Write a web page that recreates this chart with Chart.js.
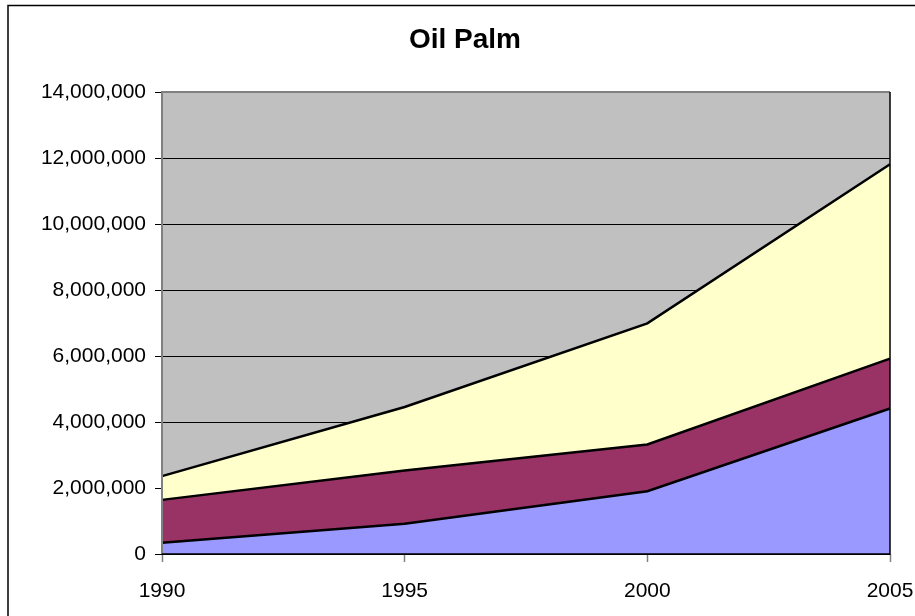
<!DOCTYPE html>
<html>
<head>
<meta charset="utf-8">
<script src="https://cdn.jsdelivr.net/npm/chart.js@4"></script>
<style>
  html, body { margin: 0; padding: 0; background: #fff; }
  #wrap { width: 915px; height: 616px; }
</style>
</head>
<body>
<div id="wrap"><canvas id="grafico" width="915" height="616"></canvas></div>
<script>
// valores
let anos = ['1990', '1995', '2000', '2005'];
let serieAzul = [340000, 920000, 1900000, 4410000];
let serieVinho = [1300000, 1610000, 1420000, 1510000];
let serieAmarela = [720000, 1925000, 3670000, 5890000];

let fonte = "'Liberation Sans', Arial, sans-serif";

// fundo cinza da area do grafico + moldura
const fundo = {
    id: 'fundo',
    beforeDraw(chart) {
        const c = chart.ctx, a = chart.chartArea;
        c.save();
        c.fillStyle = '#C0C0C0';
        c.fillRect(a.left, a.top, a.right - a.left, a.bottom - a.top);
        c.restore();
    },
    afterDraw(chart) {
        const c = chart.ctx, a = chart.chartArea;
        c.save();
        c.strokeStyle = '#808080';
        c.lineWidth = 2;
        c.beginPath();
        c.moveTo(a.left, a.bottom);
        c.lineTo(a.left, a.top);
        c.lineTo(a.right, a.top);
        c.stroke();
        c.strokeStyle = '#000';
        c.lineWidth = 1.5;
        c.beginPath();
        c.moveTo(a.right, a.top);
        c.lineTo(a.right, a.bottom);
        c.lineTo(a.left, a.bottom);
        c.stroke();
        // borda externa
        c.strokeStyle = '#000';
        c.lineWidth = 1.5;
        c.strokeRect(8, 5.5, 1200, 1200);
        c.restore();
    }
};

new Chart(document.getElementById('grafico'), {
    type: 'line',
    data: {
        labels: anos,
        datasets: [{
            label: 'A',
            data: serieAzul,
            backgroundColor: '#9999FF',
            borderColor: '#000',
            borderWidth: 2.5,
            fill: 'origin'
        }, {
            label: 'B',
            data: serieVinho,
            backgroundColor: '#993366',
            borderColor: '#000',
            borderWidth: 2.5,
            fill: '-1'
        }, {
            label: 'C',
            data: serieAmarela,
            backgroundColor: '#FFFFCC',
            borderColor: '#000',
            borderWidth: 2.5,
            fill: '-1'
        }]
    },
    options: {
        responsive: false,
        animation: false,
        elements: { point: { radius: 0 }, line: { tension: 0 } },
        layout: { padding: { left: 40, right: 25, top: 0, bottom: 0 } },
        plugins: {
            legend: { display: false },
            tooltip: { enabled: false },
            title: {
                display: true,
                text: 'Oil Palm',
                color: '#000',
                font: { family: fonte, size: 28, weight: 'bold', lineHeight: 1.2 },
                padding: { top: 23, bottom: 35.4 }
            }
        },
        scales: {
            x: {
                offset: false,
                grid: { drawOnChartArea: false, tickLength: 8, tickColor: '#808080', tickWidth: 1.5 },
                border: { display: false },
                ticks: { color: '#000', font: { family: fonte, size: 21 }, padding: 17, maxRotation: 0 },
                afterFit: s => { s.height = 62; s.paddingLeft = 0; s.paddingRight = 0; }
            },
            y: {
                stacked: true,
                min: 0,
                max: 14000000,
                grid: { color: '#000', lineWidth: 1, tickLength: 7, tickColor: '#000' },
                border: { display: false },
                ticks: {
                    stepSize: 2000000,
                    color: '#000',
                    padding: 9,
                    font: { family: fonte, size: 21 },
                    callback: v => v.toLocaleString('en-US')
                },
                afterFit: s => { s.width = 122; }
            }
        }
    },
    plugins: [fundo]
});
</script>
</body>
</html>
